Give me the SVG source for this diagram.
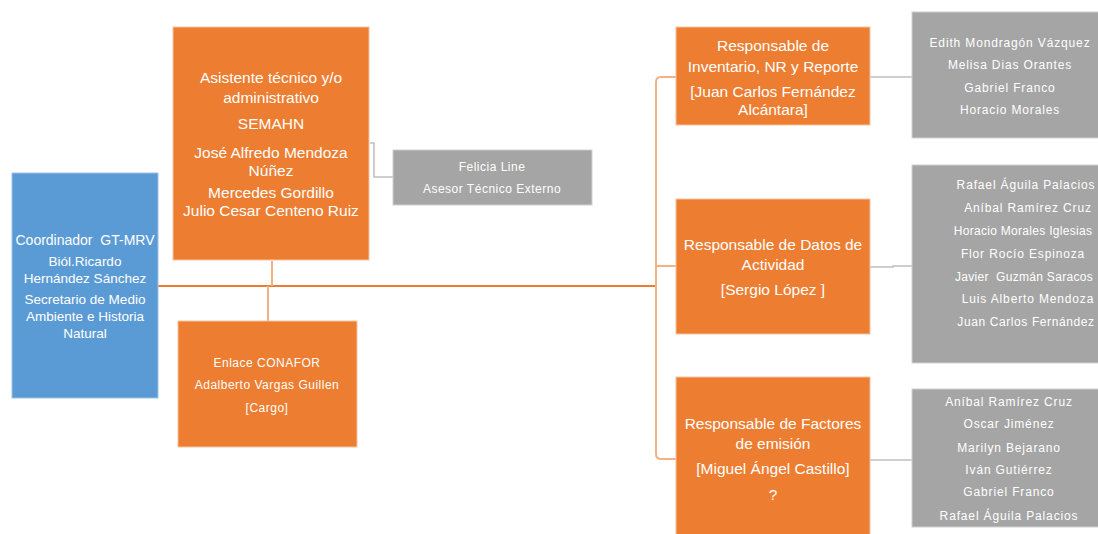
<svg xmlns="http://www.w3.org/2000/svg" width="1098" height="534" viewBox="0 0 1098 534">
<style>
.o{fill:#ED7D31;stroke:#F6C3A0;stroke-width:1}
.b{fill:#5B9BD5;stroke:#9DC3E6;stroke-width:1}
.g{fill:#A5A5A5;stroke:#D0D0D0;stroke-width:1}
text{font-family:"Liberation Sans",Arial,sans-serif;fill:#FFFFFF;text-anchor:middle}
.t15{font-size:15.5px}
.t13{font-size:13.5px}
.s{font-size:12px;letter-spacing:0.5px}
.sg{font-size:12px;letter-spacing:0.85px}
.sn{font-size:12px;letter-spacing:0.3px}
.co{fill:none;stroke:#F4B183;stroke-width:2}
.cm{fill:none;stroke:#ED7D31;stroke-width:2}
.cg{fill:none;stroke:#BFBFBF;stroke-width:1.5}
</style>
<rect width="1098" height="534" fill="#FFFFFF"/>
<g id="connectors">
<path class="cm" d="M158,286 H656"/>
<path class="co" d="M676,77 H661 Q656,77 656,82 V454 Q656,459 661,459 H676"/>
<path class="co" d="M656,266 H676"/>
<path class="co" d="M272,261 V286"/>
<path class="co" d="M268,286 V321"/>
<path class="cg" d="M370,143 H374 V177 H393"/>
<path class="cg" d="M870,77 H912"/>
<path class="cg" d="M870,267 H893 V266 H912"/>
<path class="cg" d="M870,460 H912"/>
</g>
<g id="coordinador">
<rect class="b" x="12" y="173" width="146" height="225"/>
<text class="t13" x="85" y="245" style="font-size:14px" xml:space="preserve">Coordinador  GT-MRV</text>
<text class="t13" x="85" y="266">Biól.Ricardo</text>
<text class="t13" x="85" y="283">Hernández Sánchez</text>
<text class="t13" x="85" y="304">Secretario de Medio</text>
<text class="t13" x="85" y="321">Ambiente e Historia</text>
<text class="t13" x="85" y="338">Natural</text>
</g>
<g id="asistente">
<rect class="o" x="173" y="27" width="196" height="233"/>
<text class="t15" x="271" y="83">Asistente técnico y/o</text>
<text class="t15" x="271" y="103">administrativo</text>
<text class="t15" x="271" y="129">SEMAHN</text>
<text class="t15" x="271" y="158">José Alfredo Mendoza</text>
<text class="t15" x="271" y="176">Núñez</text>
<text class="t15" x="271" y="198">Mercedes Gordillo</text>
<text class="t15" x="271" y="216">Julio Cesar Centeno Ruiz</text>
</g>
<g id="felicia">
<rect class="g" x="393" y="150" width="199" height="55"/>
<text class="s" x="492" y="171">Felicia Line</text>
<text class="s" x="492" y="193">Asesor Técnico Externo</text>
</g>
<g id="enlace">
<rect class="o" x="178" y="321" width="179" height="126"/>
<text class="s" x="267" y="367">Enlace CONAFOR</text>
<text class="s" x="267" y="389">Adalberto Vargas Guillen</text>
<text class="s" x="267" y="412">[Cargo]</text>
</g>
<g id="inventario">
<rect class="o" x="676" y="27" width="194" height="98"/>
<text class="t15" x="773" y="51">Responsable de</text>
<text class="t15" x="773" y="72">Inventario, NR y Reporte</text>
<text class="t15" x="773" y="97">[Juan Carlos Fernández</text>
<text class="t15" x="773" y="115">Alcántara]</text>
</g>
<g id="datos">
<rect class="o" x="676" y="199" width="194" height="135"/>
<text class="t15" x="773" y="250">Responsable de Datos de</text>
<text class="t15" x="773" y="270">Actividad</text>
<text class="t15" x="773" y="295">[Sergio López ]</text>
</g>
<g id="factores">
<rect class="o" x="676" y="377" width="194" height="170"/>
<text class="t15" x="773" y="429">Responsable de Factores</text>
<text class="t15" x="773" y="449">de emisión</text>
<text class="t15" x="773" y="474">[Miguel Ángel Castillo]</text>
<text class="t15" x="773" y="500">?</text>
</g>
<g id="equipo-inventario">
<rect class="g" x="912" y="12" width="196" height="126"/>
<text class="sg" x="1010" y="47">Edith Mondragón Vázquez</text>
<text class="sg" x="1010" y="69">Melisa Dias Orantes</text>
<text class="sg" x="1010" y="92">Gabriel Franco</text>
<text class="sg" x="1010" y="114">Horacio Morales</text>
</g>
<g id="equipo-datos">
<rect class="g" x="912" y="165" width="232" height="198"/>
<text class="sg" x="1026" y="189">Rafael Águila Palacios</text>
<text class="sg" x="1028" y="212">Aníbal Ramírez Cruz</text>
<text class="sn" x="1023" y="235">Horacio Morales Iglesias</text>
<text class="sn" x="1023" y="258" style="letter-spacing:0.85px">Flor Rocío Espinoza</text>
<text class="sn" x="1024" y="281" xml:space="preserve">Javier  Guzmán Saracos</text>
<text class="sg" x="1028" y="303">Luis Alberto Mendoza</text>
<text class="sn" x="1026" y="326" style="letter-spacing:0.6px">Juan Carlos Fernández</text>
</g>
<g id="equipo-factores">
<rect class="g" x="912" y="389" width="196" height="138"/>
<text class="sg" x="1009" y="406">Aníbal Ramírez Cruz</text>
<text class="sg" x="1009" y="428">Oscar Jiménez</text>
<text class="sg" x="1009" y="452">Marilyn Bejarano</text>
<text class="sg" x="1009" y="474">Iván Gutiérrez</text>
<text class="sg" x="1009" y="496">Gabriel Franco</text>
<text class="sg" x="1009" y="520">Rafael Águila Palacios</text>
</g>
</svg>
